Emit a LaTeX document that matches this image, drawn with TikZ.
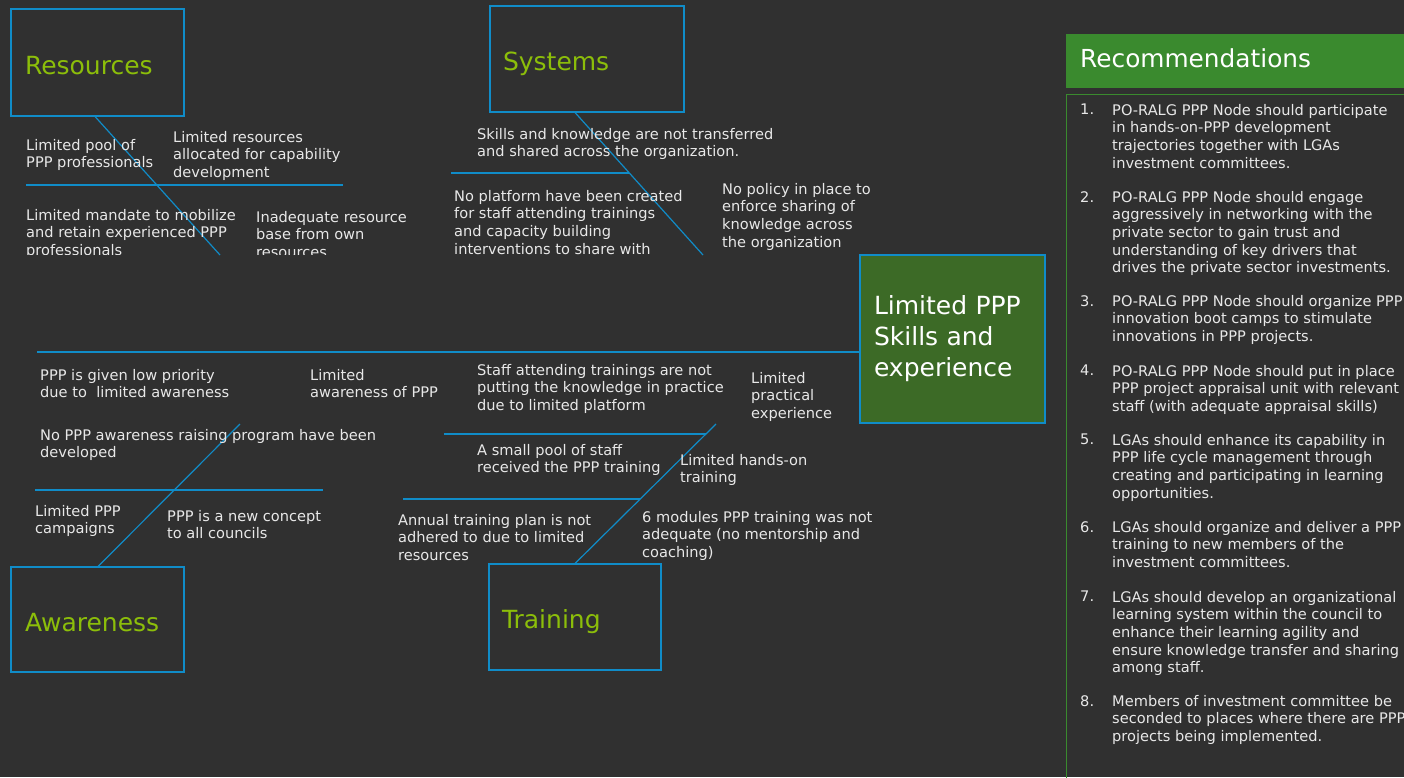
\documentclass[tikz,border=0pt]{standalone}
\usepackage{fontspec}
\setmainfont{DejaVu Sans}
\definecolor{bg}{RGB}{48,48,48}
\definecolor{bline}{RGB}{16,140,200}
\definecolor{lgreen}{RGB}{140,190,10}
\definecolor{mgreen}{RGB}{60,106,38}
\definecolor{hgreen}{RGB}{58,138,46}
\definecolor{txt}{RGB}{232,232,232}
\begin{document}
\begin{tikzpicture}[x=1pt,y=-1pt,
  cat/.style={draw=bline, line width=1.2pt, align=left, text=lgreen,
    font=\fontsize{25}{30}\selectfont, anchor=center, text height=25pt, text depth=2pt, inner ysep=0pt},
  bone/.style={draw=bline, line width=1.2pt},
  rib/.style={draw=bline, line width=2pt},
  small/.style={anchor=north west, inner sep=0pt, align=left, text=txt,
    font=\fontsize{14.6}{17.6}\selectfont},
  rnum/.style={small},
  rtext/.style={small}]
\clip (0,0) rectangle (1404,777);
\fill[bg] (0,0) rectangle (1404,777);

% category boxes
\node[cat, minimum width=173pt, minimum height=107pt, text width=145pt, inner xsep=14pt] (res) at (97.5,62.5) {Resources};
\node[cat, minimum width=194pt, minimum height=106pt, text width=168pt, inner xsep=13pt] (sys) at (587,59) {Systems};
\node[cat, minimum width=173pt, minimum height=105pt, text width=145pt, inner xsep=14pt] (awa) at (97.5,619.5) {Awareness};
\node[cat, minimum width=172pt, minimum height=106pt, text width=146pt, inner xsep=13pt] (tra) at (575,617) {Training};

% effect box
\node[draw=bline, fill=mgreen, line width=1.2pt, minimum width=185pt, minimum height=168pt,
  text width=157pt, inner xsep=14pt, inner ysep=0pt, text=white,
  font=\fontsize{25}{31}\selectfont] (eff) at (952.5,339)
  {\raisebox{-5pt}{\begin{tabular}{@{}l@{}}Limited PPP\\Skills and\\experience\end{tabular}}};

% spine
\coordinate (tail) at (37,352);
\draw[rib] (tail) -- (tail -| eff.west);

% bones
\coordinate (rb) at (220,255);
\coordinate (sb) at (703,255);
\coordinate (ab) at (240,424);
\coordinate (tb) at (716,424);
\draw[bone] (95,116.5) -- (rb);
\draw[bone] (575,112.5) -- (sb);
\draw[bone] (98,566.5) -- (ab);
\draw[bone] (575,563.5) -- (tb);

% ribs
\coordinate (r1a) at (26,185); \coordinate (r1b) at (343,185);
\coordinate (s1a) at (451,173); \coordinate (s1b) at (629,173);
\coordinate (a1a) at (35,490); \coordinate (a1b) at (323,490);
\coordinate (t1a) at (444,434); \coordinate (t1b) at (706,434);
\coordinate (t2a) at (403,499); \coordinate (t2b) at (640,499);
\draw[rib] (r1a) -- (r1b);
\draw[rib] (s1a) -- (s1b);
\draw[rib] (a1a) -- (a1b);
\draw[rib] (t1a) -- (t1b);
\draw[rib] (t2a) -- (t2b);

% cause texts (top)
\begin{scope}
\clip (0,0) rectangle (1050,254.5);
\node[small] (c1) at (26,139) {Limited pool of\\PPP professionals};
\node[small] (c2) at (173,131) {Limited resources\\allocated for capability\\development};
\node[small] (c3) at (26,209) {Limited mandate to mobilize\\and retain experienced PPP\\professionals};
\node[small] (c4) at (256,211) {Inadequate resource\\base from own\\resources};
\node[small] (c5) at (477,128) {Skills and knowledge are not transferred\\and shared across the organization.};
\node[small] (c6) at (454,190) {No platform have been created\\for staff attending trainings\\and capacity building\\interventions to share with};
\node[small] (c7) at (722,183) {No policy in place to\\enforce sharing of\\knowledge across\\the organization};
\end{scope}

% cause texts (bottom)
\node[small] (c8) at (40,369) {PPP is given low priority\\due to\ \ limited awareness};
\node[small] (c9) at (310,369) {Limited\\awareness of PPP};
\node[small] (c10) at (40,429) {No PPP awareness raising program have been\\developed};
\node[small] (c11) at (35,505) {Limited PPP\\campaigns};
\node[small] (c12) at (167,510) {PPP is a new concept\\to all councils};
\node[small] (c13) at (477,364) {Staff attending trainings are not\\putting the knowledge in practice\\due to limited platform};
\node[small] (c14) at (751,372) {Limited\\practical\\experience};
\node[small] (c15) at (477,444) {A small pool of staff\\received the PPP training};
\node[small] (c16) at (680,454) {Limited hands-on\\training};
\node[small] (c17) at (398,514) {Annual training plan is not\\adhered to due to limited\\resources};
\node[small] (c18) at (642,511) {6 modules PPP training was not\\adequate (no mentorship and\\coaching)};

% recommendations
\node[fill=hgreen, minimum width=340pt, minimum height=54pt, anchor=north west, inner sep=0pt] (hdr) at (1066,34) {};
\node[anchor=west, inner sep=0pt, text=white, font=\fontsize{24.8}{29}\selectfont] (hdrt) at (1080,58) {Recommendations};
\draw[draw=hgreen, line width=1pt] (1066.5,800) -- (1066.5,94) -- (1420,94);

\node[rnum] (n1) at (1080,104) {1.};
\node[rtext] (t1) at (1112,104) {PO-RALG PPP Node should participate\\in hands-on-PPP development\\trajectories together with LGAs\\investment committees.};
\node[rnum] (n2) at (1080,191) {2.};
\node[rtext] (t2) at (1112,191) {PO-RALG PPP Node should engage\\aggressively in networking with the\\private sector to gain trust and\\understanding of key drivers that\\drives the private sector investments.};
\node[rnum] (n3) at (1080,295) {3.};
\node[rtext] (t3) at (1112,295) {PO-RALG PPP Node should organize PPP\\innovation boot camps to stimulate\\innovations in PPP projects.};
\node[rnum] (n4) at (1080,365) {4.};
\node[rtext] (t4) at (1112,365) {PO-RALG PPP Node should put in place\\PPP project appraisal unit with relevant\\staff (with adequate appraisal skills)};
\node[rnum] (n5) at (1080,434) {5.};
\node[rtext] (t5) at (1112,434) {LGAs should enhance its capability in\\PPP life cycle management through\\creating and participating in learning\\opportunities.};
\node[rnum] (n6) at (1080,521) {6.};
\node[rtext] (t6) at (1112,521) {LGAs should organize and deliver a PPP\\training to new members of the\\investment committees.};
\node[rnum] (n7) at (1080,591) {7.};
\node[rtext] (t7) at (1112,591) {LGAs should develop an organizational\\learning system within the council to\\enhance their learning agility and\\ensure knowledge transfer and sharing\\among staff.};
\node[rnum] (n8) at (1080,695) {8.};
\node[rtext] (t8) at (1112,695) {Members of investment committee be\\seconded to places where there are PPP\\projects being implemented.};
\end{tikzpicture}
\end{document}
